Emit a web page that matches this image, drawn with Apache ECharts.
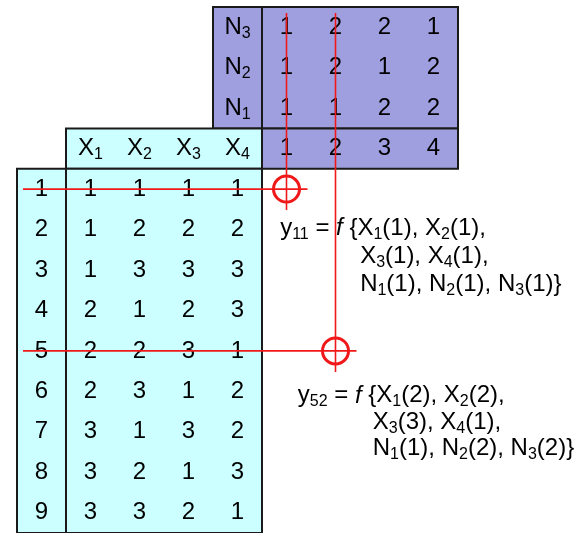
<!DOCTYPE html>
<html>
<head>
<meta charset="utf-8">
<script src="https://cdn.jsdelivr.net/npm/echarts@6.0.0/dist/echarts.min.js"></script>
<style>
  html, body { margin: 0; padding: 0; background: #fff; }
  #chart { width: 582px; height: 533px; }
</style>
</head>
<body>
<div id="chart"></div>
<script>
// inner array (control factors)
const xFactors = ["X1", "X2", "X3", "X4"];
const runIds = [1, 2, 3, 4, 5, 6, 7, 8, 9];
const xDesign = [
  [1, 1, 1, 1],
  [1, 2, 2, 2],
  [1, 3, 3, 3],
  [2, 1, 2, 3],
  [2, 2, 3, 1],
  [2, 3, 1, 2],
  [3, 1, 3, 2],
  [3, 2, 1, 3],
  [3, 3, 2, 1],
];
// outer array (noise factors), top row first
const nFactors = ["N3", "N2", "N1"];
const nRunIds = [1, 2, 3, 4];
const nDesign = [
  [1, 2, 2, 1],
  [1, 2, 1, 2],
  [1, 1, 2, 2],
];
// highlighted responses: [inner run, outer run]
const picks = [[1, 1], [5, 2]];

// layout (cell units: one column = CELL_W px, one row = ROW_H px)
const CELL_W = 49;
const ROW_H = 40.67;
const COLS = 11.5;
const EQ_POS = [[5.37, 5.48], [5.73, 9.61]];
const EQ_INDENT = [80, 75];
const EQ_LINE = [28, 26.5];
const CYAN = "#ccffff";
const PURPLE = "#9f9fe0";
const INK = "#000000";
const RED = "#f01818";
const FONT = "'Liberation Sans', Arial, sans-serif";
const FS = 24;
const RICH = {
  sub: { fontSize: 16, fontFamily: FONT, fill: INK, verticalAlign: "bottom", lineHeight: 10 },
  it: { fontSize: FS, fontFamily: FONT, fill: INK, fontStyle: "italic", lineHeight: 28 },
};

const sub = (name) => name.replace(/(\D+)(\d+)/, "$1{sub|$2}");
const k = xFactors.length;
const nRows = nFactors.length;
const headRow = nRows;
const firstRun = nRows + 1;
const ROWS = firstRun + runIds.length;

// panels: [col0, row0, col1, row1, colour]  (0 = cyan, 1 = purple)
const panels = [
  [k, 0, k + 1, nRows, 1],
  [k + 1, 0, k + 1 + nRunIds.length, nRows, 1],
  [k + 1, headRow, k + 1 + nRunIds.length, headRow + 1, 1],
  [1, headRow, k + 1, headRow + 1, 0],
  [0, firstRun, 1, ROWS, 0],
  [1, firstRun, k + 1, ROWS, 0],
];

// cell texts, centred in their cell
const cells = [];
const cellText = [];
const put = (col, row, text) => { cells.push([col + 0.5, row + 0.5]); cellText.push(String(text)); };
nFactors.forEach((name, r) => {
  put(k, r, sub(name));
  nDesign[r].forEach((v, c) => put(k + 1 + c, r, v));
});
xFactors.forEach((name, c) => put(1 + c, headRow, sub(name)));
nRunIds.forEach((v, c) => put(k + 1 + c, headRow, v));
runIds.forEach((id, i) => {
  put(0, firstRun + i, id);
  xDesign[i].forEach((v, c) => put(1 + c, firstRun + i, v));
});

// equations for picked responses
const eqLines = picks.map(([run, nrun]) => {
  const xs = xFactors.map((name, c) => `${sub(name)}(${xDesign[run - 1][c]})`);
  const ns = nFactors.map((name, r) => `${sub(name)}(${nDesign[r][nrun - 1]})`).reverse();
  return [
    `y{sub|${run}${nrun}} = {it|f} {${xs[0]}, ${xs[1]},`,
    `${xs[2]}, ${xs[3]},`,
    `${ns.join(", ")}}`,
  ];
});

const textStyle = (text, align) => ({
  text, fill: INK, fontSize: FS, fontFamily: FONT, lineHeight: 28,
  align, verticalAlign: "middle", rich: RICH,
});

const chart = echarts.init(document.getElementById("chart"), null, { renderer: "canvas" });
chart.setOption({
  animation: false,
  grid: { left: 17, top: 7, width: CELL_W * COLS, height: ROW_H * ROWS },
  xAxis: { type: "value", min: 0, max: COLS, show: false },
  yAxis: { type: "value", min: 0, max: ROWS, inverse: true, show: false },
  series: [
    {
      type: "custom", name: "panels", clip: false, z: 1,
      data: panels,
      renderItem: (params, api) => {
        const p0 = api.coord([api.value(0), api.value(1)]);
        const p1 = api.coord([api.value(2), api.value(3)]);
        return {
          type: "rect",
          shape: { x: p0[0], y: p0[1], width: p1[0] - p0[0], height: p1[1] - p0[1] },
          style: { fill: api.value(4) === 1 ? PURPLE : CYAN, stroke: "#1a1a1a", lineWidth: 2 },
        };
      },
    },
    {
      type: "custom", name: "cells", clip: false, z: 2,
      data: cells,
      renderItem: (params, api) => {
        const p = api.coord([api.value(0), api.value(1)]);
        return { type: "text", x: p[0], y: p[1], style: textStyle(cellText[params.dataIndex], "center") };
      },
    },
    {
      type: "custom", name: "equations", clip: false, z: 2,
      data: EQ_POS,
      renderItem: (params, api) => {
        const i = params.dataIndex;
        const p = api.coord([api.value(0), api.value(1)]);
        return {
          type: "group",
          children: eqLines[i].map((line, l) => ({
            type: "text", x: p[0] + (l ? EQ_INDENT[i] : 0), y: p[1] + l * EQ_LINE[i],
            style: textStyle(line, "left"),
          })),
        };
      },
    },
    {
      type: "custom", name: "picks", clip: false, z: 5,
      data: picks.map(([run, nrun]) => [k + 1 + (nrun - 1) + 0.5, firstRun + (run - 1) + 0.5]),
      renderItem: (params, api) => {
        const c = api.coord([api.value(0), api.value(1)]);
        const top = api.coord([api.value(0), 0])[1] + 6;
        const left = api.coord([0, api.value(1)])[0] + 6;
        const line = { stroke: RED, lineWidth: 1.6 };
        return {
          type: "group",
          children: [
            { type: "line", shape: { x1: c[0], y1: top, x2: c[0], y2: c[1] + 21 }, style: line },
            { type: "line", shape: { x1: left, y1: c[1], x2: c[0] + 21, y2: c[1] }, style: line },
            { type: "circle", shape: { cx: c[0], cy: c[1], r: 13 }, style: { fill: "none", stroke: RED, lineWidth: 3 } },
          ],
        };
      },
    },
  ],
});
</script>
</body>
</html>
